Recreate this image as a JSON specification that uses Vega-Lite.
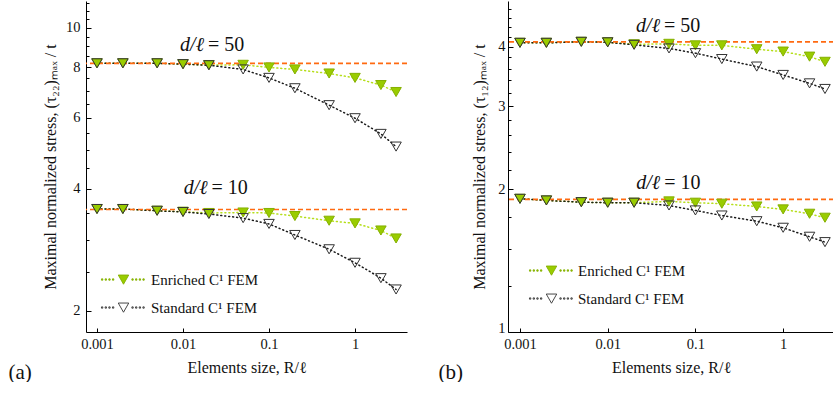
{
  "$schema": "https://vega.github.io/schema/vega-lite/v6.json",
  "padding": {"left": 8, "top": 1, "right": 0, "bottom": 0},
  "spacing": 30,
  "datasets": {
    "a": [
      {"d": 50, "method": "Enriched", "R": 0.001, "v": 8.17},
      {"d": 50, "method": "Enriched", "R": 0.002, "v": 8.17},
      {"d": 50, "method": "Enriched", "R": 0.005, "v": 8.17},
      {"d": 50, "method": "Enriched", "R": 0.01, "v": 8.13},
      {"d": 50, "method": "Enriched", "R": 0.02, "v": 8.09},
      {"d": 50, "method": "Enriched", "R": 0.05, "v": 8.1},
      {"d": 50, "method": "Enriched", "R": 0.1, "v": 7.98},
      {"d": 50, "method": "Enriched", "R": 0.2, "v": 7.89},
      {"d": 50, "method": "Enriched", "R": 0.5, "v": 7.71},
      {"d": 50, "method": "Enriched", "R": 1, "v": 7.52},
      {"d": 50, "method": "Enriched", "R": 2, "v": 7.22},
      {"d": 50, "method": "Enriched", "R": 3, "v": 6.94},
      {"d": 10, "method": "Enriched", "R": 0.001, "v": 3.57},
      {"d": 10, "method": "Enriched", "R": 0.002, "v": 3.57},
      {"d": 10, "method": "Enriched", "R": 0.005, "v": 3.535},
      {"d": 10, "method": "Enriched", "R": 0.01, "v": 3.515},
      {"d": 10, "method": "Enriched", "R": 0.02, "v": 3.49},
      {"d": 10, "method": "Enriched", "R": 0.05, "v": 3.5},
      {"d": 10, "method": "Enriched", "R": 0.1, "v": 3.49},
      {"d": 10, "method": "Enriched", "R": 0.2, "v": 3.43},
      {"d": 10, "method": "Enriched", "R": 0.5, "v": 3.34},
      {"d": 10, "method": "Enriched", "R": 1, "v": 3.29},
      {"d": 10, "method": "Enriched", "R": 2, "v": 3.16},
      {"d": 10, "method": "Enriched", "R": 3, "v": 3.02},
      {"d": 50, "method": "Standard", "R": 0.001, "v": 8.17},
      {"d": 50, "method": "Standard", "R": 0.002, "v": 8.17},
      {"d": 50, "method": "Standard", "R": 0.005, "v": 8.17},
      {"d": 50, "method": "Standard", "R": 0.01, "v": 8.13},
      {"d": 50, "method": "Standard", "R": 0.02, "v": 8.08},
      {"d": 50, "method": "Standard", "R": 0.05, "v": 7.89},
      {"d": 50, "method": "Standard", "R": 0.1, "v": 7.52},
      {"d": 50, "method": "Standard", "R": 0.2, "v": 7.09},
      {"d": 50, "method": "Standard", "R": 0.5, "v": 6.44},
      {"d": 50, "method": "Standard", "R": 1, "v": 5.98},
      {"d": 50, "method": "Standard", "R": 2, "v": 5.47},
      {"d": 50, "method": "Standard", "R": 3, "v": 5.09},
      {"d": 10, "method": "Standard", "R": 0.001, "v": 3.57},
      {"d": 10, "method": "Standard", "R": 0.002, "v": 3.57},
      {"d": 10, "method": "Standard", "R": 0.005, "v": 3.535},
      {"d": 10, "method": "Standard", "R": 0.01, "v": 3.51},
      {"d": 10, "method": "Standard", "R": 0.02, "v": 3.47},
      {"d": 10, "method": "Standard", "R": 0.05, "v": 3.39},
      {"d": 10, "method": "Standard", "R": 0.1, "v": 3.28},
      {"d": 10, "method": "Standard", "R": 0.2, "v": 3.08},
      {"d": 10, "method": "Standard", "R": 0.5, "v": 2.84},
      {"d": 10, "method": "Standard", "R": 1, "v": 2.63},
      {"d": 10, "method": "Standard", "R": 2, "v": 2.41},
      {"d": 10, "method": "Standard", "R": 3, "v": 2.26}
    ],
    "b": [
      {"d": 50, "method": "Enriched", "R": 0.001, "v": 4.08},
      {"d": 50, "method": "Enriched", "R": 0.002, "v": 4.08},
      {"d": 50, "method": "Enriched", "R": 0.005, "v": 4.1},
      {"d": 50, "method": "Enriched", "R": 0.01, "v": 4.09},
      {"d": 50, "method": "Enriched", "R": 0.02, "v": 4.05},
      {"d": 50, "method": "Enriched", "R": 0.05, "v": 4.06},
      {"d": 50, "method": "Enriched", "R": 0.1, "v": 4.03},
      {"d": 50, "method": "Enriched", "R": 0.2, "v": 4.03},
      {"d": 50, "method": "Enriched", "R": 0.5, "v": 3.955},
      {"d": 50, "method": "Enriched", "R": 1, "v": 3.91},
      {"d": 50, "method": "Enriched", "R": 2, "v": 3.815},
      {"d": 50, "method": "Enriched", "R": 3, "v": 3.72},
      {"d": 10, "method": "Enriched", "R": 0.001, "v": 1.911},
      {"d": 10, "method": "Enriched", "R": 0.002, "v": 1.896},
      {"d": 10, "method": "Enriched", "R": 0.005, "v": 1.88},
      {"d": 10, "method": "Enriched", "R": 0.01, "v": 1.875},
      {"d": 10, "method": "Enriched", "R": 0.02, "v": 1.875},
      {"d": 10, "method": "Enriched", "R": 0.05, "v": 1.887},
      {"d": 10, "method": "Enriched", "R": 0.1, "v": 1.875},
      {"d": 10, "method": "Enriched", "R": 0.2, "v": 1.866},
      {"d": 10, "method": "Enriched", "R": 0.5, "v": 1.841},
      {"d": 10, "method": "Enriched", "R": 1, "v": 1.815},
      {"d": 10, "method": "Enriched", "R": 2, "v": 1.777},
      {"d": 10, "method": "Enriched", "R": 3, "v": 1.743},
      {"d": 50, "method": "Standard", "R": 0.001, "v": 4.08},
      {"d": 50, "method": "Standard", "R": 0.002, "v": 4.08},
      {"d": 50, "method": "Standard", "R": 0.005, "v": 4.1},
      {"d": 50, "method": "Standard", "R": 0.01, "v": 4.09},
      {"d": 50, "method": "Standard", "R": 0.02, "v": 4.04},
      {"d": 50, "method": "Standard", "R": 0.05, "v": 3.97},
      {"d": 50, "method": "Standard", "R": 0.1, "v": 3.88},
      {"d": 50, "method": "Standard", "R": 0.2, "v": 3.77},
      {"d": 50, "method": "Standard", "R": 0.5, "v": 3.635},
      {"d": 50, "method": "Standard", "R": 1, "v": 3.49},
      {"d": 50, "method": "Standard", "R": 2, "v": 3.35},
      {"d": 50, "method": "Standard", "R": 3, "v": 3.26},
      {"d": 10, "method": "Standard", "R": 0.001, "v": 1.911},
      {"d": 10, "method": "Standard", "R": 0.002, "v": 1.896},
      {"d": 10, "method": "Standard", "R": 0.005, "v": 1.88},
      {"d": 10, "method": "Standard", "R": 0.01, "v": 1.875},
      {"d": 10, "method": "Standard", "R": 0.02, "v": 1.875},
      {"d": 10, "method": "Standard", "R": 0.05, "v": 1.85},
      {"d": 10, "method": "Standard", "R": 0.1, "v": 1.806},
      {"d": 10, "method": "Standard", "R": 0.2, "v": 1.762},
      {"d": 10, "method": "Standard", "R": 0.5, "v": 1.714},
      {"d": 10, "method": "Standard", "R": 1, "v": 1.66},
      {"d": 10, "method": "Standard", "R": 2, "v": 1.589},
      {"d": 10, "method": "Standard", "R": 3, "v": 1.548}
    ],
    "refa": [{"d": 50, "v": 8.17}, {"d": 10, "v": 3.56}],
    "refb": [{"d": 50, "v": 4.1}, {"d": 10, "v": 1.905}],
    "notesa": [
      {"lhs": "d/ℓ", "rhs": "= 50", "R": 0.018, "v": 8.745},
      {"lhs": "d/ℓ", "rhs": "= 10", "R": 0.0198, "v": 3.89}
    ],
    "notesb": [
      {"lhs": "d/ℓ", "rhs": "= 50", "R": 0.0405, "v": 4.3},
      {"lhs": "d/ℓ", "rhs": "= 10", "R": 0.0407, "v": 2.007}
    ]
  },
  "config": {
    "view": {"stroke": null},
    "font": "Liberation Serif",
    "axis": {
      "domainColor": "#000", "tickColor": "#000", "labelColor": "#111", "titleColor": "#111",
      "labelFont": "Liberation Serif", "titleFont": "Liberation Serif",
      "labelFontSize": 14.5, "titleFontSize": 16, "titleFontWeight": "normal",
      "grid": false, "tickSize": -5, "labelPadding": 5, "labelFlush": false
    },
    "legend": {"labelFont": "Liberation Serif", "labelFontSize": 15, "labelColor": "#111"},
    "text": {"font": "Liberation Serif", "fontSize": 20, "color": "#111"}
  },
  "resolve": {
    "scale": {"x": "independent", "y": "independent", "fill": "independent", "stroke": "independent"},
    "legend": {"fill": "independent", "stroke": "independent"}
  },
  "hconcat": [
    {
      "width": 321,
      "height": 331,
      "resolve": {"axis": {"y": "independent"}},
      "layer": [
        {
          "data": {"name": "a"},
          "mark": {"type": "line", "strokeDash": [1, 3], "strokeWidth": 1.5, "strokeCap": "round"},
          "encoding": {
            "x": {"field": "R", "type": "quantitative",
              "scale": {"type": "log", "domain": [0.000745, 4.02], "nice": false},
              "axis": {"values": [0.001, 0.01, 0.1, 1], "format": "~g", "title": "Elements size, R/ℓ", "titlePadding": 9, "tickSize": -4, "labelPadding": 9}},
            "y": {"field": "v", "type": "quantitative",
              "scale": {"type": "log", "domain": [1.775, 11.64], "nice": false},
              "axis": {"orient": "left", "values": [2, 4, 6, 8, 10], "title": "Maximal normalized stress,  (τ₂₂)ₘₐₓ / t", "titlePadding": 7, "labelPadding": 11}},
            "detail": [{"field": "d"}, {"field": "method"}],
            "color": {"condition": {"test": "datum.method === 'Enriched'", "value": "#b6de1c"}, "value": "#1a1a1a"}
          }
        },
        {
          "data": {"name": "refa"},
          "mark": {"type": "rule", "strokeDash": [5, 3], "color": "#ff6a10", "strokeWidth": 1.7},
          "encoding": {
            "y": {"field": "v", "type": "quantitative",
              "axis": {"orient": "left", "values": [2.5, 3, 3.5, 4.5, 5, 5.5, 6.5, 7, 7.5, 8.5, 9, 9.5, 10.5, 11, 11.5], "labels": false, "domain": false, "tickSize": -3,
                "title": "(a)", "titleAngle": 0, "titleX": -78, "titleY": 371, "titleAlign": "left", "titleBaseline": "middle", "titleFontSize": 21}}
          }
        },
        {
          "data": {"name": "a"},
          "mark": {"type": "point", "shape": "triangle-down", "size": 110, "strokeWidth": 1, "opacity": 1, "filled": false},
          "encoding": {
            "x": {"field": "R", "type": "quantitative"},
            "y": {"field": "v", "type": "quantitative", "axis": null},
            "fill": {"field": "method", "type": "nominal", "scale": {"domain": ["Enriched", "Standard"], "range": ["#99cc00", "transparent"]},
              "legend": {"orient": "none", "legendX": 30, "legendY": 271, "title": null, "padding": 0,
                "symbolType": "M-4.2,-0.12h0.25v0.25h-0.25Z M-3.5,-0.12h0.25v0.25h-0.25Z M-2.8,-0.12h0.25v0.25h-0.25Z M-2.1,-0.12h0.25v0.25h-0.25Z M-1,-0.85L1,-0.85L0,0.9Z M1.6,-0.12h0.25v0.25h-0.25Z M2.3,-0.12h0.25v0.25h-0.25Z M3,-0.12h0.25v0.25h-0.25Z M3.7,-0.12h0.25v0.25h-0.25Z",
                "symbolSize": 110, "symbolStrokeWidth": 0.9, "labelOffset": 20, "rowPadding": 12,
                "labelExpr": "datum.label + ' C¹ FEM'"}},
            "stroke": {"field": "method", "type": "nominal", "scale": {"domain": ["Enriched", "Standard"], "range": ["#85b000", "#333333"]},
              "legend": {"orient": "none", "legendX": 30, "legendY": 271, "title": null, "padding": 0,
                "symbolType": "M-4.2,-0.12h0.25v0.25h-0.25Z M-3.5,-0.12h0.25v0.25h-0.25Z M-2.8,-0.12h0.25v0.25h-0.25Z M-2.1,-0.12h0.25v0.25h-0.25Z M-1,-0.85L1,-0.85L0,0.9Z M1.6,-0.12h0.25v0.25h-0.25Z M2.3,-0.12h0.25v0.25h-0.25Z M3,-0.12h0.25v0.25h-0.25Z M3.7,-0.12h0.25v0.25h-0.25Z",
                "symbolSize": 110, "symbolStrokeWidth": 0.9, "labelOffset": 20, "rowPadding": 12,
                "labelExpr": "datum.label + ' C¹ FEM'"}}
          }
        },
        {
          "data": {"name": "notesa"},
          "mark": {"type": "text", "align": "right", "baseline": "alphabetic", "fontStyle": "italic", "dx": -1},
          "encoding": {
            "x": {"field": "R", "type": "quantitative"},
            "y": {"field": "v", "type": "quantitative", "axis": null},
            "text": {"field": "lhs"}
          }
        },
        {
          "data": {"name": "notesa"},
          "mark": {"type": "text", "align": "left", "baseline": "alphabetic", "dx": 3},
          "encoding": {
            "x": {"field": "R", "type": "quantitative"},
            "y": {"field": "v", "type": "quantitative", "axis": null},
            "text": {"field": "rhs"}
          }
        }
      ]
    },
    {
      "width": 326,
      "height": 331,
      "resolve": {"axis": {"y": "independent"}},
      "layer": [
        {
          "data": {"name": "b"},
          "mark": {"type": "line", "strokeDash": [1, 3], "strokeWidth": 1.5, "strokeCap": "round"},
          "encoding": {
            "x": {"field": "R", "type": "quantitative",
              "scale": {"type": "log", "domain": [0.00073, 3.8], "nice": false},
              "axis": {"values": [0.001, 0.01, 0.1, 1], "format": "~g", "title": "Elements size, R/ℓ", "titlePadding": 9, "tickSize": -4, "labelPadding": 9}},
            "y": {"field": "v", "type": "quantitative",
              "scale": {"type": "log", "domain": [1, 5], "nice": false},
              "axis": {"orient": "left", "values": [1, 2, 3, 4], "title": "Maximal normalized stress,  (τ₁₂)ₘₐₓ / t", "titlePadding": 10, "labelPadding": 8,
                "labelBaseline": {"condition": {"test": "datum.value === 1", "value": "alphabetic"}, "value": "middle"}}},
            "detail": [{"field": "d"}, {"field": "method"}],
            "color": {"condition": {"test": "datum.method === 'Enriched'", "value": "#b6de1c"}, "value": "#1a1a1a"}
          }
        },
        {
          "data": {"name": "refb"},
          "mark": {"type": "rule", "strokeDash": [5, 3], "color": "#ff6a10", "strokeWidth": 1.7},
          "encoding": {
            "y": {"field": "v", "type": "quantitative",
              "axis": {"orient": "left", "values": [1.25, 1.5, 1.75, 2.2, 2.4, 2.6, 2.8, 3.2, 3.4, 3.6, 3.8, 4.2, 4.4, 4.6, 4.8], "labels": false, "domain": false, "tickSize": -3,
                "title": "(b)", "titleAngle": 0, "titleX": -70, "titleY": 371, "titleAlign": "left", "titleBaseline": "middle", "titleFontSize": 21}}
          }
        },
        {
          "data": {"name": "b"},
          "mark": {"type": "point", "shape": "triangle-down", "size": 110, "strokeWidth": 1, "opacity": 1, "filled": false},
          "encoding": {
            "x": {"field": "R", "type": "quantitative"},
            "y": {"field": "v", "type": "quantitative", "axis": null},
            "fill": {"field": "method", "type": "nominal", "scale": {"domain": ["Enriched", "Standard"], "range": ["#99cc00", "transparent"]},
              "legend": {"orient": "none", "legendX": 36, "legendY": 262, "title": null, "padding": 0,
                "symbolType": "M-4.2,-0.12h0.25v0.25h-0.25Z M-3.5,-0.12h0.25v0.25h-0.25Z M-2.8,-0.12h0.25v0.25h-0.25Z M-2.1,-0.12h0.25v0.25h-0.25Z M-1,-0.85L1,-0.85L0,0.9Z M1.6,-0.12h0.25v0.25h-0.25Z M2.3,-0.12h0.25v0.25h-0.25Z M3,-0.12h0.25v0.25h-0.25Z M3.7,-0.12h0.25v0.25h-0.25Z",
                "symbolSize": 110, "symbolStrokeWidth": 0.9, "labelOffset": 19, "rowPadding": 12,
                "labelExpr": "datum.label + ' C¹ FEM'"}},
            "stroke": {"field": "method", "type": "nominal", "scale": {"domain": ["Enriched", "Standard"], "range": ["#85b000", "#333333"]},
              "legend": {"orient": "none", "legendX": 36, "legendY": 262, "title": null, "padding": 0,
                "symbolType": "M-4.2,-0.12h0.25v0.25h-0.25Z M-3.5,-0.12h0.25v0.25h-0.25Z M-2.8,-0.12h0.25v0.25h-0.25Z M-2.1,-0.12h0.25v0.25h-0.25Z M-1,-0.85L1,-0.85L0,0.9Z M1.6,-0.12h0.25v0.25h-0.25Z M2.3,-0.12h0.25v0.25h-0.25Z M3,-0.12h0.25v0.25h-0.25Z M3.7,-0.12h0.25v0.25h-0.25Z",
                "symbolSize": 110, "symbolStrokeWidth": 0.9, "labelOffset": 19, "rowPadding": 12,
                "labelExpr": "datum.label + ' C¹ FEM'"}}
          }
        },
        {
          "data": {"name": "notesb"},
          "mark": {"type": "text", "align": "right", "baseline": "alphabetic", "fontStyle": "italic", "dx": -1},
          "encoding": {
            "x": {"field": "R", "type": "quantitative"},
            "y": {"field": "v", "type": "quantitative", "axis": null},
            "text": {"field": "lhs"}
          }
        },
        {
          "data": {"name": "notesb"},
          "mark": {"type": "text", "align": "left", "baseline": "alphabetic", "dx": 3},
          "encoding": {
            "x": {"field": "R", "type": "quantitative"},
            "y": {"field": "v", "type": "quantitative", "axis": null},
            "text": {"field": "rhs"}
          }
        }
      ]
    }
  ]
}
